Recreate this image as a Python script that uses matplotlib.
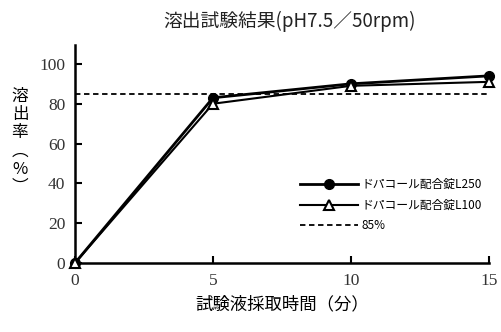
import matplotlib
matplotlib.use('Agg')
import matplotlib.pyplot as plt

# データ
jikan = [0, 5, 10, 15]
l250 = [0, 83, 90, 94]
l100 = [0, 80, 89, 91]
kijun = 85
jp = ['Noto Sans CJK JP', 'DejaVu Sans']
num = ['Liberation Serif', 'DejaVu Serif']

fig = plt.figure(figsize=(5.02, 3.32), dpi=100)
ax = fig.add_axes([75/502, 1-263/332, (489-75)/502, (263-45)/332])

ax.plot(jikan, l250, color='black', lw=2, marker='o', ms=7, clip_on=False,
        label='ドパコール配合錠L250', zorder=4)
ax.plot(jikan, l100, color='black', lw=1.5, marker='^', ms=7, mfc='white',
        mew=1.5, clip_on=False, label='ドパコール配合錠L100', zorder=5)
ax.plot([jikan[0], jikan[-1]], [kijun, kijun], color='black', lw=1.3,
        ls=(0, (3, 2)), label='85%')

ax.set_xlim(0, 15)
ax.set_ylim(0, 109.5)
ax.set_xticks(jikan)
ax.set_yticks([0, 20, 40, 60, 80, 100])
for s in ['top', 'right']:
    ax.spines[s].set_visible(False)
for s in ['left', 'bottom']:
    ax.spines[s].set_linewidth(1.8)
ax.tick_params(direction='in', length=5, width=1.5, labelsize=12.5, colors='black', pad=7)
for t in ax.get_xticklabels() + ax.get_yticklabels():
    t.set_family(num)
    t.set_color('#333333')

fig.text(290/502, 1-21/332, '溶出試験結果(pH7.5／50rpm)', ha='center', va='center',
         fontsize=13.5, family=jp, color='#222222')
ax.set_xlabel('試験液採取時間（分）', fontsize=12.5, family=jp, labelpad=5)
fig.text(20/502, 1-142/332, '溶\n出\n率\n︵\n%\n︶', ha='center', va='center',
         fontsize=12, family=jp, linespacing=1.1)

ax.legend(loc='upper left', bbox_to_anchor=(0.543, 0.39), frameon=False,
          prop={'family': jp, 'size': 8.5}, handlelength=4.9, labelspacing=0.65,
          handletextpad=0.3, borderpad=0, borderaxespad=0)

fig.savefig('out.png', dpi=100)
